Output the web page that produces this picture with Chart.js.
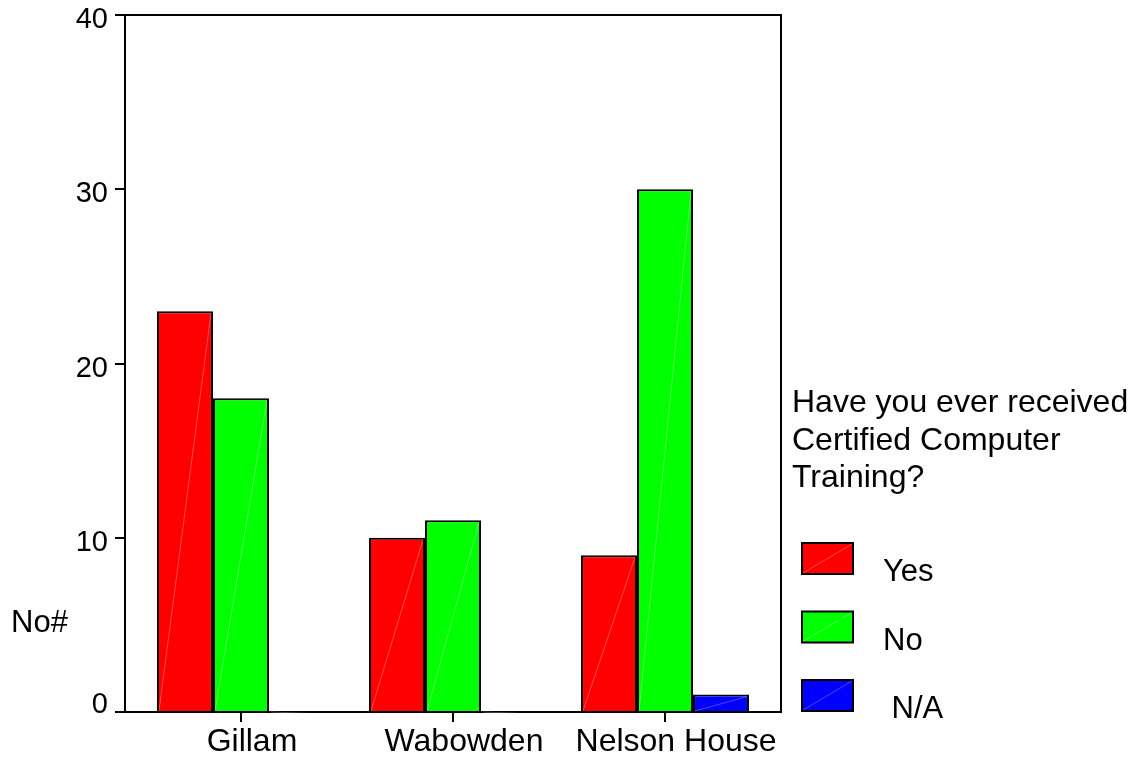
<!DOCTYPE html>
<html><head><meta charset="utf-8">
<script src="https://cdn.jsdelivr.net/npm/chart.js@4.4.0/dist/chart.umd.min.js"></script>
<style>html,body{margin:0;padding:0;background:#fff;overflow:hidden}#wrap{width:1135px;height:757px;position:relative}</style>
</head><body><div id="wrap"><canvas id="c" width="1135" height="757"></canvas></div>
<script>
const categories = ['Gillam', 'Wabowden', 'Nelson House'];
const yesValues = [23, 10, 9];
const noValues = [18, 11, 30];
const naValues = [null, null, 1];
const seriesLabels = ['Yes', 'No', ' N/A'];
const seriesColors = ['#ff0000', '#00ff00', '#0000ff'];
const yTicks = [0, 10, 20, 30, 40];
const legendTitle = ['Have you ever received', 'Certified Computer', 'Training?'];
const yAxisTitle = 'No#';

const FONT = "'Liberation Sans', Arial, sans-serif";
const seriesValues = [yesValues, noValues, naValues];

const decorPlugin = {
  id: 'decor',
  afterDatasetsDraw(chart) {
    const ctx = chart.ctx;
    ctx.save();
    ctx.strokeStyle = 'rgba(255,255,255,0.28)';
    ctx.lineWidth = 1;
    chart.data.datasets.forEach((ds, di) => {
      const meta = chart.getDatasetMeta(di);
      meta.data.forEach(el => {
        if (el.skip || el.y == null || isNaN(el.y)) return;
        const l = el.x - el.width / 2, r = el.x + el.width / 2;
        ctx.beginPath();
        ctx.moveTo(l + 2, el.base);
        ctx.lineTo(r - 2, el.y + 2);
        ctx.stroke();
      });
    });
    ctx.restore();
  },
  afterDraw(chart) {
    const ctx = chart.ctx;
    const a = chart.chartArea;
    ctx.save();
    ctx.strokeStyle = '#000';
    ctx.lineWidth = 2;
    ctx.beginPath();
    ctx.moveTo(a.left, a.top);
    ctx.lineTo(a.right, a.top);
    ctx.lineTo(a.right, a.bottom);
    ctx.stroke();
    ctx.fillStyle = '#000';
    ctx.textBaseline = 'alphabetic';
    ctx.textAlign = 'left';
    ctx.font = '31px ' + FONT;
    ctx.fillText(yAxisTitle, 11, 632);
    ctx.font = '32px ' + FONT;
    legendTitle.forEach((t, i) => ctx.fillText(t, 792, 412 + i * 37.5));
    ctx.font = '31px ' + FONT;
    chart.data.datasets.forEach((ds, i) => {
      const by = 543 + i * 68.5;
      ctx.fillStyle = ds.backgroundColor;
      ctx.fillRect(802, by, 51, 31);
      ctx.strokeStyle = 'rgba(255,255,255,0.28)';
      ctx.lineWidth = 1;
      ctx.beginPath();
      ctx.moveTo(803, by + 30);
      ctx.lineTo(852, by + 1);
      ctx.stroke();
      ctx.strokeStyle = '#000';
      ctx.lineWidth = 2;
      ctx.strokeRect(802, by, 51, 31);
      ctx.fillStyle = '#000';
      ctx.fillText(ds.label, 883, by + 38);
    });
    ctx.restore();
  }
};

new Chart(document.getElementById('c'), {
  type: 'bar',
  data: {
    labels: categories,
    datasets: seriesValues.map((vals, i) => ({
      label: seriesLabels[i],
      data: vals,
      backgroundColor: seriesColors[i],
      borderColor: '#000',
      borderWidth: 2,
      borderSkipped: 'start',
      categoryPercentage: 168 / 212,
      barPercentage: 1
    }))
  },
  options: {
    responsive: false,
    animation: false,
    events: [],
    layout: { padding: { left: 0, top: 15, right: 354, bottom: 0 } },
    plugins: { legend: { display: false }, tooltip: { enabled: false }, title: { display: false } },
    scales: {
      x: {
        type: 'category',
        offset: false,
        afterBuildTicks: s => { s._startValue = -0.547; s._valueRange = 3.094; },
        afterFit: s => { s.height = 45; s.paddingLeft = 0; s.paddingRight = 0; },
        ticks: {
          color: '#000',
          font: { family: FONT, size: 32 },
          padding: 1,
          labelOffset: 11,
          maxRotation: 0,
          autoSkip: false
        },
        grid: { offset: false, drawOnChartArea: false, drawTicks: true, tickLength: 10, color: '#000', lineWidth: 2 },
        border: { display: true, color: '#000', width: 2 }
      },
      y: {
        min: 0,
        max: 40,
        afterBuildTicks: s => { s.ticks = yTicks.map(v => ({ value: v })); },
        afterFit: s => { s.width = 125; s.paddingTop = 0; s.paddingBottom = 0; },
        ticks: {
          color: '#000',
          font: { family: FONT, size: 29, lineHeight: 0.83 },
          padding: 7,
          labelOffset: 5,
          callback: v => (v === 0 ? [String(v), ''] : String(v))
        },
        grid: { drawOnChartArea: false, drawTicks: true, tickLength: 10, color: '#000', lineWidth: 2 },
        border: { display: true, color: '#000', width: 2 }
      }
    }
  },
  plugins: [decorPlugin]
});
</script>
</body></html>
